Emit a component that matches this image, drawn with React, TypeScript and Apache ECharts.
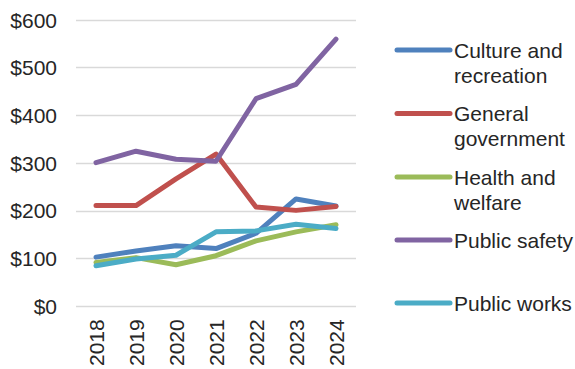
import React, { useEffect, useRef } from "react";
import * as echarts from "echarts";

const years = ["2018", "2019", "2020", "2021", "2022", "2023", "2024"];
const seriesNames = [
  "Culture and\nrecreation",
  "General\ngovernment",
  "Health and\nwelfare",
  "Public safety",
  "Public works",
];
const cultureRecreation = [103, 116, 127, 121, 153, 225, 210];
const generalGovernment = [211, 211, 267, 319, 208, 201, 209];
const healthWelfare = [92, 102, 87, 106, 137, 156, 171];
const publicSafety = [301, 325, 308, 304, 435, 465, 560];
const publicWorks = [85, 99, 107, 156, 158, 172, 163];
const seriesValues = [cultureRecreation, generalGovernment, healthWelfare, publicSafety, publicWorks];
const colors = ["#4F81BD", "#C0504D", "#9BBB59", "#8064A2", "#4BACC6"];
const legendY = [50, 113.5, 177, 240, 303];

const FONT = "'Liberation Sans', Arial, sans-serif";
const TEXT = "#262626";

export default function App() {
  const ref = useRef<HTMLDivElement>(null);
  useEffect(() => {
    if (!ref.current) return;
    const chart = echarts.init(ref.current, undefined, { renderer: "svg" });
    const graphic: any[] = [];
    seriesNames.forEach((name, i) => {
      graphic.push({
        type: "line",
        shape: { x1: 397, y1: legendY[i], x2: 450, y2: legendY[i] },
        style: { stroke: colors[i], lineWidth: 5, lineCap: "round" },
      });
      graphic.push({
        type: "text",
        x: 454,
        y: legendY[i] - 12.5,
        style: {
          text: name,
          fill: TEXT,
          font: `21px ${FONT}`,
          fontSize: 21,
          fontFamily: FONT,
          lineHeight: 25,
          verticalAlign: "top",
          align: "left",
        },
      });
    });
    chart.setOption({
      animation: false,
      grid: { left: 76, top: 20, width: 280, height: 288, containLabel: false },
      xAxis: {
        type: "category",
        data: years,
        boundaryGap: true,
        axisLine: { show: false },
        axisTick: { show: false },
        axisLabel: {
          rotate: 90,
          margin: 13,
          fontSize: 21,
          fontFamily: FONT,
          color: TEXT,
        },
      },
      yAxis: {
        type: "value",
        min: 0,
        max: 600,
        interval: 100,
        axisLine: { show: false },
        axisTick: { show: false },
        splitLine: { lineStyle: { color: "#D9D9D9", width: 1.3 } },
        axisLabel: {
          margin: 19,
          fontSize: 21,
          fontFamily: FONT,
          color: TEXT,
          formatter: (v: number) => "$" + v,
        },
      },
      legend: { show: false },
      graphic,
      series: seriesNames.map((name, i) => ({
        name,
        type: "line",
        data: seriesValues[i],
        symbol: "none",
        smooth: false,
        lineStyle: { color: colors[i], width: 5, cap: "round", join: "round" },
        itemStyle: { color: colors[i] },
      })),
    });
    return () => chart.dispose();
  }, []);
  return (
    <div
      ref={ref}
      style={{ position: "fixed", left: 0, top: 0, width: 575, height: 369, background: "#fff" }}
    />
  );
}
